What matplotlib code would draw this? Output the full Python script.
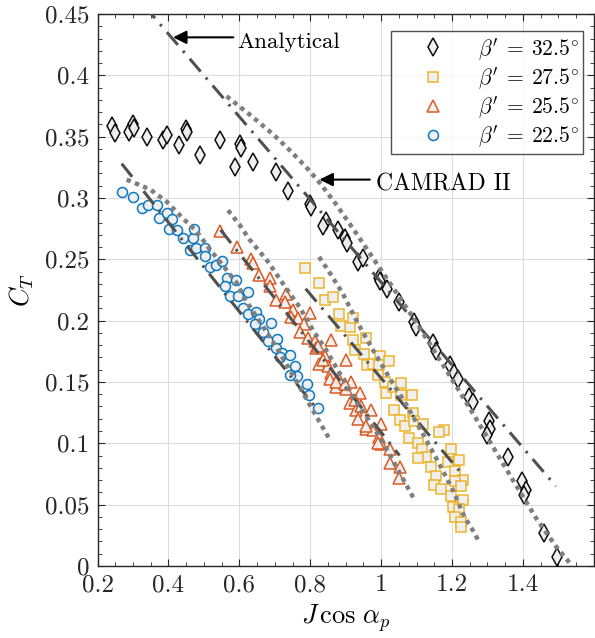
import matplotlib
matplotlib.use("Agg")
import matplotlib.pyplot as plt
from matplotlib.ticker import MultipleLocator

plt.rcParams["font.family"] = "serif"
plt.rcParams["font.serif"] = ["cmr10"]
plt.rcParams["mathtext.fontset"] = "cm"
plt.rcParams["axes.formatter.use_mathtext"] = True

# measured data, beta' = 32.5 deg
x_325 = [0.240, 0.249, 0.290, 0.301, 0.303, 0.339, 0.385, 0.397, 0.430, 0.449, 0.451,
         0.489, 0.545, 0.603, 0.606, 0.587, 0.639, 0.702, 0.737, 0.800, 0.801,
         0.845, 0.836, 0.878, 0.897, 0.903, 0.934, 0.948, 0.995, 0.997, 1.016,
         1.050, 1.094, 1.099, 1.145, 1.155, 1.194, 1.206, 1.216, 1.249, 1.258,
         1.303, 1.307, 1.299, 1.359, 1.396, 1.408, 1.402, 1.460, 1.496]
y_325 = [0.359, 0.353, 0.354, 0.360, 0.357, 0.350, 0.347, 0.351, 0.343, 0.356, 0.354,
         0.335, 0.347, 0.344, 0.341, 0.325, 0.329, 0.321, 0.306, 0.295, 0.293,
         0.281, 0.277, 0.274, 0.267, 0.263, 0.248, 0.251, 0.235, 0.232, 0.226,
         0.215, 0.199, 0.195, 0.182, 0.175, 0.164, 0.157, 0.152, 0.138, 0.134,
         0.118, 0.112, 0.107, 0.089, 0.069, 0.062, 0.058, 0.027, 0.007]

# beta' = 27.5 deg
x_275 = [0.784, 0.825, 0.843, 0.864, 0.881, 0.888, 0.911, 0.920, 0.920, 0.925,
         0.956, 0.953, 0.960, 0.977, 0.997, 0.995, 1.022, 0.991, 1.010, 1.014,
         1.033, 1.057, 1.057, 1.087, 1.035, 1.052, 1.066, 1.091, 1.094, 1.117,
         1.080, 1.103, 1.116, 1.127, 1.103, 1.141, 1.155, 1.150, 1.169, 1.178,
         1.162, 1.197, 1.188, 1.221, 1.207, 1.230, 1.207, 1.225, 1.197, 1.230,
         1.202, 1.221, 1.207, 1.225, 1.225]
y_275 = [0.243, 0.231, 0.217, 0.219, 0.205, 0.196, 0.195, 0.202, 0.184, 0.176,
         0.186, 0.173, 0.164, 0.165, 0.171, 0.164, 0.167, 0.156, 0.150, 0.141,
         0.146, 0.149, 0.139, 0.139, 0.127, 0.119, 0.114, 0.125, 0.118, 0.116,
         0.104, 0.100, 0.095, 0.089, 0.088, 0.081, 0.073, 0.066, 0.063, 0.111,
         0.109, 0.095, 0.085, 0.086, 0.077, 0.070, 0.069, 0.065, 0.057, 0.054,
         0.048, 0.046, 0.040, 0.036, 0.032]

# beta' = 25.5 deg
x_255 = [0.545, 0.592, 0.634, 0.639, 0.656, 0.686, 0.686, 0.703, 0.731, 0.728,
         0.750, 0.747, 0.765, 0.781, 0.770, 0.798, 0.794, 0.812, 0.817, 0.859,
         0.841, 0.826, 0.850, 0.902, 0.859, 0.855, 0.881, 0.873, 0.916, 0.902,
         0.911, 0.939, 0.930, 0.934, 0.972, 0.958, 0.977, 1.000, 0.995, 1.000,
         1.024, 1.024, 1.052, 1.050, 0.822, 0.836, 0.873, 0.897, 0.925, 0.944,
         0.958, 0.991]
y_255 = [0.273, 0.260, 0.250, 0.247, 0.237, 0.235, 0.228, 0.217, 0.222, 0.215,
         0.209, 0.203, 0.202, 0.197, 0.191, 0.206, 0.186, 0.183, 0.178, 0.184,
         0.171, 0.165, 0.163, 0.168, 0.157, 0.152, 0.152, 0.146, 0.150, 0.144,
         0.133, 0.141, 0.127, 0.120, 0.127, 0.112, 0.111, 0.116, 0.105, 0.099,
         0.095, 0.084, 0.081, 0.072, 0.179, 0.168, 0.150, 0.148, 0.135, 0.130,
         0.114, 0.100]

# beta' = 22.5 deg
x_225 = [0.268, 0.299, 0.324, 0.343, 0.367, 0.374, 0.395, 0.409, 0.402, 0.423,
         0.442, 0.468, 0.472, 0.460, 0.477, 0.503, 0.503, 0.517, 0.533, 0.552,
         0.564, 0.559, 0.590, 0.573, 0.597, 0.625, 0.611, 0.625, 0.646, 0.656,
         0.643, 0.667, 0.688, 0.681, 0.705, 0.703, 0.719, 0.714, 0.744, 0.756,
         0.764, 0.742, 0.791, 0.796, 0.822]
y_225 = [0.305, 0.301, 0.292, 0.294, 0.294, 0.284, 0.288, 0.283, 0.275, 0.274,
         0.267, 0.267, 0.275, 0.258, 0.259, 0.259, 0.253, 0.244, 0.245, 0.249,
         0.235, 0.228, 0.233, 0.220, 0.220, 0.223, 0.210, 0.205, 0.207, 0.201,
         0.197, 0.191, 0.198, 0.183, 0.185, 0.178, 0.174, 0.170, 0.172, 0.163,
         0.155, 0.156, 0.148, 0.139, 0.129]

# analytical model (dash-dot), end points
ana_x_325 = [0.331, 1.493]
ana_y_325 = [0.457, 0.065]
ana_x_275 = [0.787, 1.228]
ana_y_275 = [0.226, 0.075]
ana_x_255 = [0.547, 1.052]
ana_y_255 = [0.274, 0.090]
ana_x_225 = [0.268, 0.810]
ana_y_225 = [0.328, 0.131]

# CAMRAD II (dotted)
cam_x_325 = [0.564, 0.629, 0.695, 0.742, 0.789, 0.825, 0.870, 0.916, 0.977, 1.033,
             1.089, 1.146, 1.211, 1.268, 1.324, 1.380, 1.437, 1.493, 1.539]
cam_y_325 = [0.383, 0.368, 0.352, 0.339, 0.325, 0.313, 0.296, 0.277, 0.251, 0.227,
             0.203, 0.177, 0.147, 0.120, 0.093, 0.066, 0.039, 0.016, 0.0]
cam_x_275 = [0.825, 0.855, 0.892, 0.934, 0.977, 1.024, 1.066, 1.117, 1.155, 1.202,
             1.235, 1.263, 1.277]
cam_y_275 = [0.252, 0.239, 0.222, 0.198, 0.176, 0.153, 0.134, 0.108, 0.088, 0.062,
             0.040, 0.027, 0.019]
cam_x_255 = [0.568, 0.601, 0.629, 0.681, 0.728, 0.770, 0.808, 0.845, 0.883, 0.920,
             0.958, 1.000, 1.033, 1.071, 1.094]
cam_y_255 = [0.290, 0.278, 0.266, 0.248, 0.228, 0.211, 0.192, 0.176, 0.157, 0.138,
             0.122, 0.103, 0.086, 0.066, 0.054]
cam_x_225 = [0.282, 0.348, 0.395, 0.442, 0.479, 0.517, 0.559, 0.592, 0.615, 0.667,
             0.705, 0.742, 0.817, 0.855]
cam_y_225 = [0.315, 0.307, 0.297, 0.283, 0.273, 0.258, 0.243, 0.231, 0.218, 0.195,
             0.178, 0.160, 0.122, 0.103]

labels = [r"$\beta'\:=\:32.5^{\circ}$", r"$\beta'\:=\:27.5^{\circ}$",
          r"$\beta'\:=\:25.5^{\circ}$", r"$\beta'\:=\:22.5^{\circ}$"]
colors = ["black", "#EDB120", "#D95319", "#0072BD"]
markers = ["d", "s", "^", "o"]
sizes = [9, 7.4, 8.2, 7.2]
face = "#f0f0f0"

fig = plt.figure(figsize=(5.95, 6.38), dpi=100)
ax = fig.add_axes([0.164, 0.113, 0.834, 0.865])

data = [(x_325, y_325), (x_275, y_275), (x_255, y_255), (x_225, y_225)]
for (xs, ys), c, m, s, lab in zip(data, colors, markers, sizes, labels):
    ax.plot(xs, ys, ls="none", marker=m, ms=s, mfc=face, mec=c, mew=1.1,
            label=lab, zorder=3, alpha=0.95)

ana = [(ana_x_325, ana_y_325), (ana_x_275, ana_y_275),
       (ana_x_255, ana_y_255), (ana_x_225, ana_y_225)]
for xs, ys in ana:
    ax.plot(xs, ys, color="#505050", lw=2.2, ls=(0, (5.5, 2.6, 0.8, 2.6)), zorder=4)

cam = [(cam_x_325, cam_y_325), (cam_x_275, cam_y_275),
       (cam_x_255, cam_y_255), (cam_x_225, cam_y_225)]
for xs, ys in cam:
    ax.plot(xs, ys, color="#7f7f7f", lw=3.2, ls=(0, (1, 1.0)),
            dash_capstyle="butt", zorder=4)

# annotations
ax.annotate("", xy=(0.413, 0.431), xytext=(0.583, 0.431),
            arrowprops=dict(arrowstyle="-|>", color="black", lw=1.5,
                            mutation_scale=20, shrinkA=0, shrinkB=0))
ax.text(0.594, 0.427, "Analytical", fontsize=16.5, va="center", ha="left")
ax.annotate("", xy=(0.826, 0.315), xytext=(0.968, 0.315),
            arrowprops=dict(arrowstyle="-|>", color="black", lw=1.5,
                            mutation_scale=20, shrinkA=0, shrinkB=0))
ax.text(0.986, 0.311, "CAMRAD II", fontsize=17, va="center", ha="left")

ax.set_xlim(0.2, 1.6)
ax.set_ylim(0, 0.45)
ax.set_xticks([0.2, 0.4, 0.6, 0.8, 1.0, 1.2, 1.4])
ax.set_xticklabels(["0.2", "0.4", "0.6", "0.8", "1", "1.2", "1.4"])
yt = [0, 0.05, 0.1, 0.15, 0.2, 0.25, 0.3, 0.35, 0.4, 0.45]
ax.set_yticks(yt)
ax.set_yticklabels(["0", "0.05", "0.1", "0.15", "0.2", "0.25", "0.3", "0.35", "0.4", "0.45"])
ax.xaxis.set_minor_locator(MultipleLocator(0.05))
ax.yaxis.set_minor_locator(MultipleLocator(0.01))
ax.tick_params(which="both", direction="in", top=True, right=True,
               labelsize=18, colors="#262626")
ax.tick_params(which="major", length=5, width=0.8, pad=6)
ax.tick_params(which="minor", length=3, width=0.6)
for sp in ax.spines.values():
    sp.set_color("#262626")
    sp.set_linewidth(1.0)
ax.grid(True, which="major", color="#dcdcdc", lw=0.8)
ax.set_axisbelow(True)

ax.set_xlabel(r"$J\,\cos\,\alpha_p$", fontsize=19, labelpad=4)
ax.set_ylabel(r"$C_T$", fontsize=19, labelpad=6)

leg = ax.legend(loc="upper right", bbox_to_anchor=(0.979, 0.969), borderaxespad=0,
                fontsize=15.5, frameon=True, fancybox=False, edgecolor="#262626",
                handlelength=3.5, handletextpad=0.3, labelspacing=0.15,
                borderpad=0.22, markerscale=1.0)
leg.get_frame().set_linewidth(1.0)

fig.savefig("out.png", dpi=100)
